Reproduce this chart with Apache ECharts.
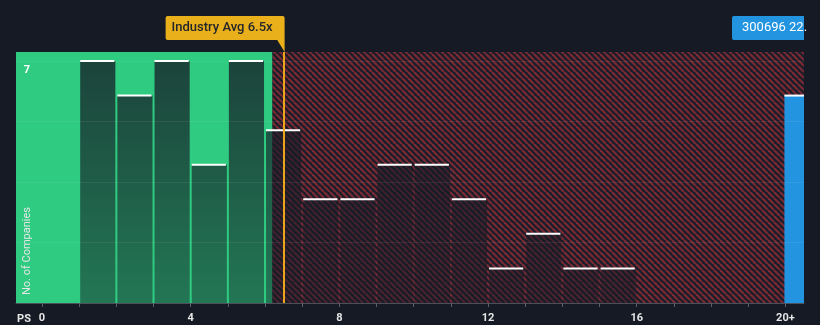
<!DOCTYPE html>
<html>
<head>
<meta charset="utf-8">
<script src="https://cdn.jsdelivr.net/npm/echarts@6/dist/echarts.min.js"></script>
<style>
html,body{margin:0;padding:0;background:#151a24;}
#chart{width:820px;height:325px;}
</style>
</head>
<body>
<div id="chart"></div>
<script>
// ---- data ----
const binStarts = [1, 2, 3, 4, 5, 6, 7, 8, 9, 10, 11, 12, 13, 14, 15];
const binEnds   = [2, 3, 4, 5, 6, 7, 8, 9, 10, 11, 12, 13, 14, 15, 16];
const counts    = [7, 6, 7, 4, 7, 5, 3, 3, 4, 4, 3, 1, 2, 1, 1];
const companyBin = [20, 20.5];
const companyCount = 6;
const companyLabel = '300696 22.';
const industryAvg = 6.5;
const industryLabel = 'Industry Avg 6.5x';
const fairEnd = 6.2;
const xMin = -0.7, xMax = 20.5;
const yMax = 7.26;
const xTickValues = [0,1,2,3,4,5,6,7,8,9,10,11,12,13,14,15,16,17,18,19,20];
const xLabelValues = [0, 4, 8, 12, 16, 20];
const xLabelTexts = ['0', '4', '8', '12', '16', '20+'];
const yGridValues = [1.75, 3.5, 5.25, 7];
const yLabelValue = 7;
const xAxisName = 'PS';
const yAxisName = 'No. of Companies';

// ---- hatch pattern ----
function makeHatch() {
  const s = 6;
  const c = document.createElement('canvas');
  c.width = s; c.height = s;
  const g = c.getContext('2d');
  g.fillStyle = '#1b1d28';
  g.fillRect(0, 0, s, s);
  g.strokeStyle = '#7a2a35';
  g.lineWidth = 2.2;
  for (let k = -1; k <= 1; k++) {
    g.beginPath();
    g.moveTo(k * s, 0);
    g.lineTo(k * s + s, s);
    g.stroke();
  }
  return c;
}
const hatch = makeHatch();

const barData = binStarts.map((s, i) => [s, binEnds[i], counts[i], 0]);
barData.push([companyBin[0], companyBin[1], companyCount, 1]);

const chart = echarts.init(document.getElementById('chart'));

const option = {
  backgroundColor: '#151a24',
  animation: false,
  grid: { left: 16, right: 16, top: 52, bottom: 22 },
  xAxis: {
    type: 'value', min: xMin, max: xMax,
    axisLine: { show: true, lineStyle: { color: '#4b505b', width: 1 } },
    axisTick: { show: true, customValues: xTickValues, length: 4, lineStyle: { color: '#5a5f6a' } },
    axisLabel: {
      customValues: xLabelValues,
      formatter: v => xLabelTexts[xLabelValues.indexOf(v)],
      color: '#e6e6e6', fontSize: 11, fontWeight: 'bold', fontFamily: 'Roboto', margin: 10
    },
    splitLine: { show: false }
  },
  yAxis: {
    type: 'value', min: 0, max: yMax,
    axisLine: { show: false }, axisTick: { show: false },
    splitLine: { show: false },
    axisLabel: { show: false }
  },
  series: [
    {
      type: 'line', data: [], z: 1, silent: true,
      markArea: {
        silent: true,
        data: [
          [{ xAxis: xMin, itemStyle: { color: '#2ecb80' } }, { xAxis: fairEnd }],
          [{ xAxis: fairEnd, itemStyle: { color: { image: hatch, repeat: 'repeat' } } }, { xAxis: xMax }]
        ]
      },
      markLine: {
        silent: true, symbol: 'none', animation: false,
        label: { show: false },
        data: yGridValues.map(v => ({ yAxis: v, lineStyle: { color: 'rgba(255,255,255,0.07)', width: 1, type: 'solid' } }))
          .concat([{ xAxis: industryAvg, lineStyle: { color: '#eaa51c', width: 2, type: 'solid' } }])
      }
    },
    {
      type: 'custom', z: 3, silent: true,
      data: barData,
      encode: { x: [0, 1], y: 2 },
      renderItem: function (params, api) {
        const x0 = api.value(0), x1 = api.value(1), v = api.value(2), isCo = api.value(3);
        const pTop = api.coord([x0, v]);
        const pBot = api.coord([x1, 0]);
        const topY = api.coord([x0, yMax])[1];
        const left = isCo ? pTop[0] - 1 : pTop[0] + 1;
        const width = isCo ? pBot[0] - pTop[0] + 1 : pBot[0] - pTop[0] - 2;
        const fill = isCo ? '#2394e0' : new echarts.graphic.LinearGradient(0, topY, 0, pBot[1], [
          { offset: 0, color: 'rgba(22,27,38,0.78)' },
          { offset: 1, color: 'rgba(22,27,38,0.48)' }
        ], true);
        return {
          type: 'group',
          children: [
            { type: 'rect', shape: { x: left, y: pTop[1], width: width, height: pBot[1] - pTop[1] }, style: { fill: fill } },
            { type: 'rect', shape: { x: left, y: pTop[1] - 1, width: isCo ? width : width - 1, height: 2 }, style: { fill: '#ffffff' } }
          ]
        };
      }
    }
  ]
};
chart.setOption(option);

// ---- labels positioned through the axis scales ----
const avgX = chart.convertToPixel({ xAxisIndex: 0 }, industryAvg);
const rightX = chart.convertToPixel({ xAxisIndex: 0 }, xMax);
const leftX = chart.convertToPixel({ xAxisIndex: 0 }, xMin);
const plotTop = chart.convertToPixel({ yAxisIndex: 0 }, yMax);
const zeroX = chart.convertToPixel({ xAxisIndex: 0 }, 0);
const baseY = chart.convertToPixel({ yAxisIndex: 0 }, 0);
const sevenY = chart.convertToPixel({ yAxisIndex: 0 }, yLabelValue);
chart.setOption({
  graphic: [
    {
      type: 'group', z: 100,
      children: [
        { type: 'rect', shape: { x: avgX + 1 - 119, y: 16, width: 119, height: 24, r: 2 }, style: { fill: '#e9b01b' } },
        { type: 'polygon', shape: { points: [[avgX - 7, 39], [avgX + 1, 39], [avgX + 1, plotTop]] }, style: { fill: '#e9b01b' } },
        { type: 'text', x: avgX + 1 - 113, y: 28, style: { text: industryLabel, fill: '#24262b', fontSize: 13, fontWeight: 500, fontFamily: 'Roboto', verticalAlign: 'middle', align: 'left' } }
      ]
    },
    {
      type: 'group', z: 100,
      children: [
        { type: 'rect', shape: { x: rightX - 72, y: 16, width: 72, height: 24, r: [2, 0, 0, 2] }, style: { fill: '#2394e0' } },
        { type: 'text', x: rightX - 62, y: 28, style: { text: companyLabel, fill: '#ffffff', fontSize: 13, fontFamily: 'Roboto', verticalAlign: 'middle', align: 'left' } }
      ]
    },
    {
      type: 'text', z: 100, x: leftX + 11, y: sevenY + 9,
      style: { text: String(yLabelValue), fill: '#ffffff', fontSize: 11, fontWeight: 'bold', fontFamily: 'Roboto', verticalAlign: 'middle', align: 'center' }
    },
    {
      type: 'text', z: 100, x: zeroX - 18, y: baseY + 16,
      style: { text: xAxisName, fill: '#e6e6e6', fontSize: 11, fontWeight: 'bold', fontFamily: 'Roboto', verticalAlign: 'middle', align: 'center' }
    },
    {
      type: 'text', z: 100, x: 27, y: baseY - 52, rotation: Math.PI / 2,
      style: { text: yAxisName, fill: '#e6e6e6', fontSize: 11, fontFamily: 'Roboto', verticalAlign: 'middle', align: 'center' }
    }
  ]
});
</script>
</body>
</html>
